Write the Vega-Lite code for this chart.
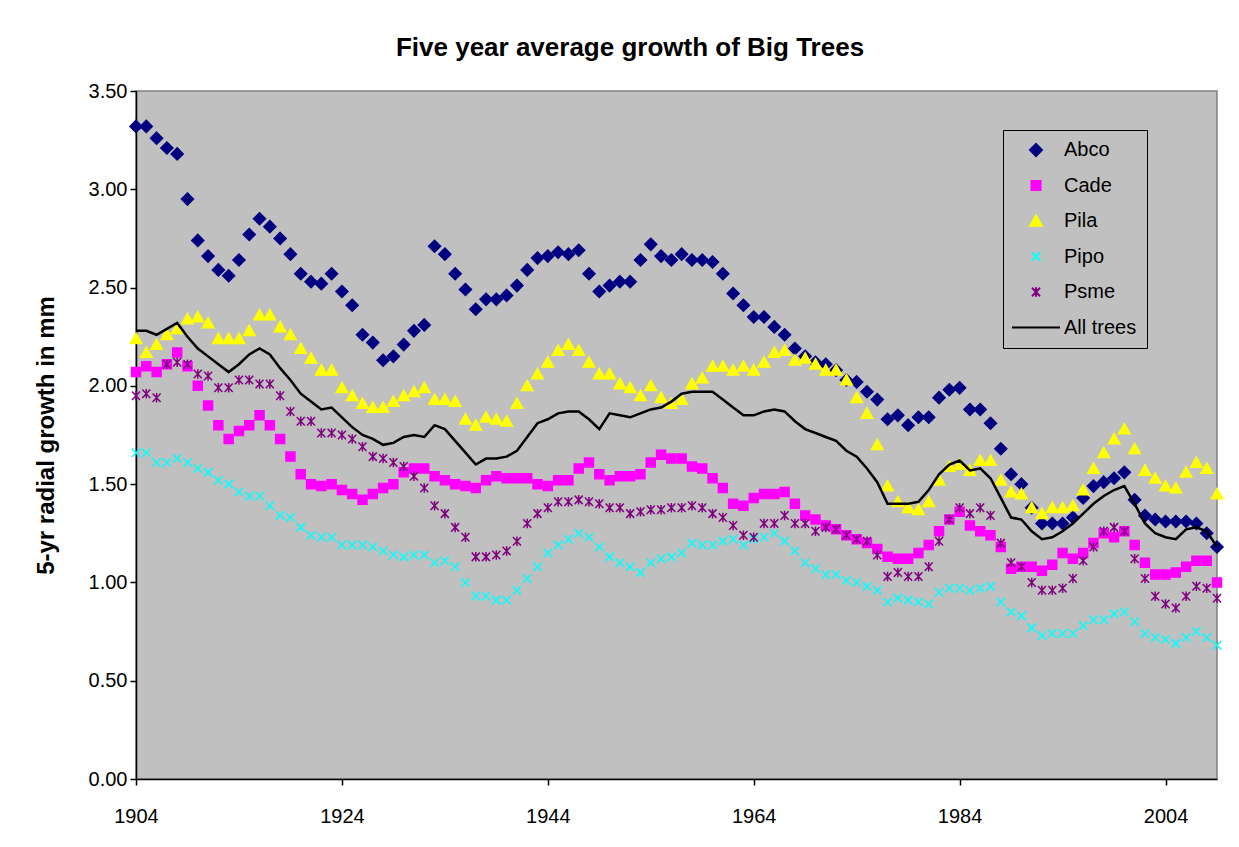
{
  "$schema": "https://vega.github.io/schema/vega-lite/v6.json",
  "width": 1081,
  "height": 688,
  "autosize": "none",
  "padding": {"left": 136, "top": 91, "right": 22, "bottom": 68},
  "background": "white",
  "title": {
    "text": "Five year average growth of Big Trees",
    "font": "Liberation Sans",
    "fontSize": 26,
    "fontWeight": "bold",
    "color": "black",
    "anchor": "middle",
    "frame": "bounds",
    "offset": 20
  },
  "config": {
    "font": "Liberation Sans",
    "view": {"fill": "#C0C0C0", "stroke": "#808080", "strokeWidth": 1.5}
  },
  "data": {
    "values": [
      {"year": 1904, "Abco": 3.32, "Cade": 2.07, "Pila": 2.24, "Pipo": 1.66, "Psme": 1.95, "All trees": 2.28},
      {"year": 1905, "Abco": 3.32, "Cade": 2.10, "Pila": 2.17, "Pipo": 1.66, "Psme": 1.96, "All trees": 2.28},
      {"year": 1906, "Abco": 3.26, "Cade": 2.07, "Pila": 2.21, "Pipo": 1.61, "Psme": 1.94, "All trees": 2.26},
      {"year": 1907, "Abco": 3.21, "Cade": 2.11, "Pila": 2.26, "Pipo": 1.61, "Psme": 2.11, "All trees": 2.29},
      {"year": 1908, "Abco": 3.18, "Cade": 2.17, "Pila": 2.29, "Pipo": 1.63, "Psme": 2.12, "All trees": 2.32},
      {"year": 1909, "Abco": 2.95, "Cade": 2.10, "Pila": 2.34, "Pipo": 1.61, "Psme": 2.11, "All trees": 2.25},
      {"year": 1910, "Abco": 2.74, "Cade": 2.00, "Pila": 2.35, "Pipo": 1.58, "Psme": 2.06, "All trees": 2.19},
      {"year": 1911, "Abco": 2.66, "Cade": 1.90, "Pila": 2.32, "Pipo": 1.56, "Psme": 2.05, "All trees": 2.15},
      {"year": 1912, "Abco": 2.59, "Cade": 1.80, "Pila": 2.24, "Pipo": 1.52, "Psme": 1.99, "All trees": 2.11},
      {"year": 1913, "Abco": 2.56, "Cade": 1.73, "Pila": 2.24, "Pipo": 1.50, "Psme": 1.99, "All trees": 2.07},
      {"year": 1914, "Abco": 2.64, "Cade": 1.77, "Pila": 2.24, "Pipo": 1.46, "Psme": 2.03, "All trees": 2.11},
      {"year": 1915, "Abco": 2.77, "Cade": 1.80, "Pila": 2.28, "Pipo": 1.44, "Psme": 2.03, "All trees": 2.16},
      {"year": 1916, "Abco": 2.85, "Cade": 1.85, "Pila": 2.36, "Pipo": 1.44, "Psme": 2.01, "All trees": 2.19},
      {"year": 1917, "Abco": 2.81, "Cade": 1.80, "Pila": 2.36, "Pipo": 1.39, "Psme": 2.01, "All trees": 2.16},
      {"year": 1918, "Abco": 2.75, "Cade": 1.73, "Pila": 2.30, "Pipo": 1.34, "Psme": 1.95, "All trees": 2.09},
      {"year": 1919, "Abco": 2.67, "Cade": 1.64, "Pila": 2.26, "Pipo": 1.33, "Psme": 1.87, "All trees": 2.03},
      {"year": 1920, "Abco": 2.57, "Cade": 1.55, "Pila": 2.19, "Pipo": 1.28, "Psme": 1.82, "All trees": 1.96},
      {"year": 1921, "Abco": 2.53, "Cade": 1.50, "Pila": 2.14, "Pipo": 1.24, "Psme": 1.82, "All trees": 1.92},
      {"year": 1922, "Abco": 2.52, "Cade": 1.49, "Pila": 2.08, "Pipo": 1.23, "Psme": 1.76, "All trees": 1.88},
      {"year": 1923, "Abco": 2.57, "Cade": 1.50, "Pila": 2.08, "Pipo": 1.23, "Psme": 1.76, "All trees": 1.89},
      {"year": 1924, "Abco": 2.48, "Cade": 1.47, "Pila": 1.99, "Pipo": 1.19, "Psme": 1.75, "All trees": 1.84},
      {"year": 1925, "Abco": 2.41, "Cade": 1.45, "Pila": 1.95, "Pipo": 1.19, "Psme": 1.73, "All trees": 1.79},
      {"year": 1926, "Abco": 2.26, "Cade": 1.42, "Pila": 1.91, "Pipo": 1.19, "Psme": 1.69, "All trees": 1.75},
      {"year": 1927, "Abco": 2.22, "Cade": 1.45, "Pila": 1.89, "Pipo": 1.18, "Psme": 1.64, "All trees": 1.73},
      {"year": 1928, "Abco": 2.13, "Cade": 1.48, "Pila": 1.89, "Pipo": 1.16, "Psme": 1.63, "All trees": 1.70},
      {"year": 1929, "Abco": 2.15, "Cade": 1.50, "Pila": 1.92, "Pipo": 1.14, "Psme": 1.61, "All trees": 1.71},
      {"year": 1930, "Abco": 2.21, "Cade": 1.56, "Pila": 1.95, "Pipo": 1.13, "Psme": 1.59, "All trees": 1.74},
      {"year": 1931, "Abco": 2.28, "Cade": 1.58, "Pila": 1.97, "Pipo": 1.14, "Psme": 1.54, "All trees": 1.75},
      {"year": 1932, "Abco": 2.31, "Cade": 1.58, "Pila": 1.99, "Pipo": 1.14, "Psme": 1.48, "All trees": 1.74},
      {"year": 1933, "Abco": 2.71, "Cade": 1.54, "Pila": 1.93, "Pipo": 1.10, "Psme": 1.39, "All trees": 1.80},
      {"year": 1934, "Abco": 2.67, "Cade": 1.52, "Pila": 1.93, "Pipo": 1.11, "Psme": 1.35, "All trees": 1.78},
      {"year": 1935, "Abco": 2.57, "Cade": 1.50, "Pila": 1.92, "Pipo": 1.08, "Psme": 1.28, "All trees": 1.72},
      {"year": 1936, "Abco": 2.49, "Cade": 1.49, "Pila": 1.83, "Pipo": 1.00, "Psme": 1.23, "All trees": 1.66},
      {"year": 1937, "Abco": 2.39, "Cade": 1.48, "Pila": 1.80, "Pipo": 0.93, "Psme": 1.13, "All trees": 1.60},
      {"year": 1938, "Abco": 2.44, "Cade": 1.52, "Pila": 1.84, "Pipo": 0.93, "Psme": 1.13, "All trees": 1.63},
      {"year": 1939, "Abco": 2.44, "Cade": 1.54, "Pila": 1.83, "Pipo": 0.91, "Psme": 1.14, "All trees": 1.63},
      {"year": 1940, "Abco": 2.46, "Cade": 1.53, "Pila": 1.82, "Pipo": 0.91, "Psme": 1.16, "All trees": 1.64},
      {"year": 1941, "Abco": 2.51, "Cade": 1.53, "Pila": 1.91, "Pipo": 0.96, "Psme": 1.21, "All trees": 1.67},
      {"year": 1942, "Abco": 2.59, "Cade": 1.53, "Pila": 2.00, "Pipo": 1.02, "Psme": 1.30, "All trees": 1.74},
      {"year": 1943, "Abco": 2.65, "Cade": 1.50, "Pila": 2.06, "Pipo": 1.08, "Psme": 1.35, "All trees": 1.81},
      {"year": 1944, "Abco": 2.66, "Cade": 1.49, "Pila": 2.12, "Pipo": 1.15, "Psme": 1.38, "All trees": 1.83},
      {"year": 1945, "Abco": 2.68, "Cade": 1.52, "Pila": 2.18, "Pipo": 1.19, "Psme": 1.41, "All trees": 1.86},
      {"year": 1946, "Abco": 2.67, "Cade": 1.52, "Pila": 2.21, "Pipo": 1.22, "Psme": 1.41, "All trees": 1.87},
      {"year": 1947, "Abco": 2.69, "Cade": 1.58, "Pila": 2.18, "Pipo": 1.25, "Psme": 1.42, "All trees": 1.87},
      {"year": 1948, "Abco": 2.57, "Cade": 1.61, "Pila": 2.12, "Pipo": 1.23, "Psme": 1.41, "All trees": 1.83},
      {"year": 1949, "Abco": 2.48, "Cade": 1.55, "Pila": 2.06, "Pipo": 1.18, "Psme": 1.40, "All trees": 1.78},
      {"year": 1950, "Abco": 2.51, "Cade": 1.52, "Pila": 2.06, "Pipo": 1.13, "Psme": 1.38, "All trees": 1.86},
      {"year": 1951, "Abco": 2.53, "Cade": 1.54, "Pila": 2.01, "Pipo": 1.10, "Psme": 1.38, "All trees": 1.85},
      {"year": 1952, "Abco": 2.53, "Cade": 1.54, "Pila": 1.99, "Pipo": 1.08, "Psme": 1.35, "All trees": 1.84},
      {"year": 1953, "Abco": 2.64, "Cade": 1.55, "Pila": 1.95, "Pipo": 1.05, "Psme": 1.36, "All trees": 1.86},
      {"year": 1954, "Abco": 2.72, "Cade": 1.61, "Pila": 2.00, "Pipo": 1.10, "Psme": 1.37, "All trees": 1.88},
      {"year": 1955, "Abco": 2.66, "Cade": 1.65, "Pila": 1.94, "Pipo": 1.12, "Psme": 1.37, "All trees": 1.89},
      {"year": 1956, "Abco": 2.64, "Cade": 1.63, "Pila": 1.91, "Pipo": 1.13, "Psme": 1.38, "All trees": 1.92},
      {"year": 1957, "Abco": 2.67, "Cade": 1.63, "Pila": 1.93, "Pipo": 1.15, "Psme": 1.38, "All trees": 1.96},
      {"year": 1958, "Abco": 2.64, "Cade": 1.59, "Pila": 2.01, "Pipo": 1.20, "Psme": 1.39, "All trees": 1.97},
      {"year": 1959, "Abco": 2.64, "Cade": 1.58, "Pila": 2.04, "Pipo": 1.19, "Psme": 1.38, "All trees": 1.97},
      {"year": 1960, "Abco": 2.63, "Cade": 1.53, "Pila": 2.10, "Pipo": 1.19, "Psme": 1.35, "All trees": 1.97},
      {"year": 1961, "Abco": 2.57, "Cade": 1.48, "Pila": 2.10, "Pipo": 1.21, "Psme": 1.33, "All trees": 1.93},
      {"year": 1962, "Abco": 2.47, "Cade": 1.40, "Pila": 2.08, "Pipo": 1.22, "Psme": 1.29, "All trees": 1.89},
      {"year": 1963, "Abco": 2.41, "Cade": 1.39, "Pila": 2.10, "Pipo": 1.19, "Psme": 1.24, "All trees": 1.85},
      {"year": 1964, "Abco": 2.35, "Cade": 1.43, "Pila": 2.08, "Pipo": 1.22, "Psme": 1.23, "All trees": 1.85},
      {"year": 1965, "Abco": 2.35, "Cade": 1.45, "Pila": 2.12, "Pipo": 1.23, "Psme": 1.30, "All trees": 1.87},
      {"year": 1966, "Abco": 2.30, "Cade": 1.45, "Pila": 2.17, "Pipo": 1.25, "Psme": 1.30, "All trees": 1.88},
      {"year": 1967, "Abco": 2.26, "Cade": 1.46, "Pila": 2.18, "Pipo": 1.21, "Psme": 1.34, "All trees": 1.87},
      {"year": 1968, "Abco": 2.19, "Cade": 1.40, "Pila": 2.13, "Pipo": 1.16, "Psme": 1.30, "All trees": 1.82},
      {"year": 1969, "Abco": 2.15, "Cade": 1.34, "Pila": 2.14, "Pipo": 1.10, "Psme": 1.30, "All trees": 1.78},
      {"year": 1970, "Abco": 2.12, "Cade": 1.32, "Pila": 2.11, "Pipo": 1.07, "Psme": 1.26, "All trees": 1.76},
      {"year": 1971, "Abco": 2.11, "Cade": 1.29, "Pila": 2.08, "Pipo": 1.04, "Psme": 1.28, "All trees": 1.74},
      {"year": 1972, "Abco": 2.08, "Cade": 1.27, "Pila": 2.08, "Pipo": 1.04, "Psme": 1.27, "All trees": 1.72},
      {"year": 1973, "Abco": 2.03, "Cade": 1.24, "Pila": 2.03, "Pipo": 1.01, "Psme": 1.24, "All trees": 1.67},
      {"year": 1974, "Abco": 2.02, "Cade": 1.22, "Pila": 1.94, "Pipo": 1.00, "Psme": 1.22, "All trees": 1.64},
      {"year": 1975, "Abco": 1.97, "Cade": 1.20, "Pila": 1.86, "Pipo": 0.98, "Psme": 1.21, "All trees": 1.58},
      {"year": 1976, "Abco": 1.93, "Cade": 1.17, "Pila": 1.70, "Pipo": 0.96, "Psme": 1.14, "All trees": 1.51},
      {"year": 1977, "Abco": 1.83, "Cade": 1.13, "Pila": 1.49, "Pipo": 0.90, "Psme": 1.03, "All trees": 1.40},
      {"year": 1978, "Abco": 1.85, "Cade": 1.12, "Pila": 1.41, "Pipo": 0.92, "Psme": 1.05, "All trees": 1.40},
      {"year": 1979, "Abco": 1.80, "Cade": 1.12, "Pila": 1.38, "Pipo": 0.91, "Psme": 1.03, "All trees": 1.40},
      {"year": 1980, "Abco": 1.84, "Cade": 1.15, "Pila": 1.37, "Pipo": 0.90, "Psme": 1.03, "All trees": 1.41},
      {"year": 1981, "Abco": 1.84, "Cade": 1.19, "Pila": 1.41, "Pipo": 0.89, "Psme": 1.08, "All trees": 1.47},
      {"year": 1982, "Abco": 1.94, "Cade": 1.26, "Pila": 1.52, "Pipo": 0.95, "Psme": 1.21, "All trees": 1.55},
      {"year": 1983, "Abco": 1.98, "Cade": 1.32, "Pila": 1.59, "Pipo": 0.97, "Psme": 1.32, "All trees": 1.60},
      {"year": 1984, "Abco": 1.99, "Cade": 1.36, "Pila": 1.60, "Pipo": 0.97, "Psme": 1.38, "All trees": 1.62},
      {"year": 1985, "Abco": 1.88, "Cade": 1.29, "Pila": 1.57, "Pipo": 0.96, "Psme": 1.35, "All trees": 1.57},
      {"year": 1986, "Abco": 1.88, "Cade": 1.26, "Pila": 1.62, "Pipo": 0.97, "Psme": 1.38, "All trees": 1.58},
      {"year": 1987, "Abco": 1.81, "Cade": 1.24, "Pila": 1.62, "Pipo": 0.98, "Psme": 1.34, "All trees": 1.53},
      {"year": 1988, "Abco": 1.68, "Cade": 1.18, "Pila": 1.52, "Pipo": 0.90, "Psme": 1.20, "All trees": 1.43},
      {"year": 1989, "Abco": 1.55, "Cade": 1.07, "Pila": 1.46, "Pipo": 0.85, "Psme": 1.10, "All trees": 1.33},
      {"year": 1990, "Abco": 1.50, "Cade": 1.08, "Pila": 1.45, "Pipo": 0.83, "Psme": 1.08, "All trees": 1.32},
      {"year": 1991, "Abco": 1.38, "Cade": 1.08, "Pila": 1.38, "Pipo": 0.77, "Psme": 1.00, "All trees": 1.26},
      {"year": 1992, "Abco": 1.30, "Cade": 1.06, "Pila": 1.35, "Pipo": 0.73, "Psme": 0.96, "All trees": 1.22},
      {"year": 1993, "Abco": 1.30, "Cade": 1.09, "Pila": 1.38, "Pipo": 0.74, "Psme": 0.96, "All trees": 1.23},
      {"year": 1994, "Abco": 1.30, "Cade": 1.15, "Pila": 1.38, "Pipo": 0.74, "Psme": 0.97, "All trees": 1.26},
      {"year": 1995, "Abco": 1.33, "Cade": 1.12, "Pila": 1.39, "Pipo": 0.74, "Psme": 1.02, "All trees": 1.30},
      {"year": 1996, "Abco": 1.43, "Cade": 1.15, "Pila": 1.47, "Pipo": 0.78, "Psme": 1.11, "All trees": 1.35},
      {"year": 1997, "Abco": 1.49, "Cade": 1.20, "Pila": 1.58, "Pipo": 0.81, "Psme": 1.18, "All trees": 1.40},
      {"year": 1998, "Abco": 1.51, "Cade": 1.25, "Pila": 1.66, "Pipo": 0.81, "Psme": 1.26, "All trees": 1.44},
      {"year": 1999, "Abco": 1.53, "Cade": 1.23, "Pila": 1.73, "Pipo": 0.84, "Psme": 1.28, "All trees": 1.47},
      {"year": 2000, "Abco": 1.56, "Cade": 1.26, "Pila": 1.78, "Pipo": 0.85, "Psme": 1.26, "All trees": 1.49},
      {"year": 2001, "Abco": 1.42, "Cade": 1.19, "Pila": 1.68, "Pipo": 0.80, "Psme": 1.12, "All trees": 1.40},
      {"year": 2002, "Abco": 1.34, "Cade": 1.10, "Pila": 1.57, "Pipo": 0.74, "Psme": 1.02, "All trees": 1.30},
      {"year": 2003, "Abco": 1.32, "Cade": 1.04, "Pila": 1.53, "Pipo": 0.72, "Psme": 0.93, "All trees": 1.25},
      {"year": 2004, "Abco": 1.31, "Cade": 1.04, "Pila": 1.49, "Pipo": 0.71, "Psme": 0.89, "All trees": 1.23},
      {"year": 2005, "Abco": 1.31, "Cade": 1.05, "Pila": 1.48, "Pipo": 0.69, "Psme": 0.87, "All trees": 1.22},
      {"year": 2006, "Abco": 1.31, "Cade": 1.08, "Pila": 1.56, "Pipo": 0.72, "Psme": 0.93, "All trees": 1.27},
      {"year": 2007, "Abco": 1.30, "Cade": 1.11, "Pila": 1.61, "Pipo": 0.75, "Psme": 0.98, "All trees": 1.28},
      {"year": 2008, "Abco": 1.25, "Cade": 1.11, "Pila": 1.58, "Pipo": 0.72, "Psme": 0.97, "All trees": 1.26},
      {"year": 2009, "Abco": 1.18, "Cade": 1.00, "Pila": 1.45, "Pipo": 0.68, "Psme": 0.92, "All trees": 1.18}
    ]
  },
  "transform": [
    {"fold": ["Abco", "Cade", "Pila", "Pipo", "Psme", "All trees"], "as": ["series", "value"]}
  ],
  "encoding": {
    "x": {
      "field": "year",
      "type": "quantitative",
      "scale": {"domain": [1904, 2009], "nice": false, "zero": false},
      "axis": {
        "title": null,
        "values": [1904, 1924, 1944, 1964, 1984, 2004],
        "format": "d",
        "grid": false,
        "labelFlush": false,
        "labelFont": "Liberation Sans",
        "labelFontSize": 20,
        "labelColor": "black",
        "labelPadding": 21,
        "tickSize": 6,
        "tickColor": "black",
        "tickWidth": 1.5,
        "domainColor": "black",
        "domainWidth": 1.5
      }
    },
    "y": {
      "field": "value",
      "type": "quantitative",
      "scale": {"domain": [0, 3.5], "nice": false, "zero": true},
      "axis": {
        "title": "5-yr radial growth in mm",
        "titleFont": "Liberation Sans",
        "titleFontSize": 24,
        "titleFontWeight": "bold",
        "titleColor": "black",
        "titlePadding": 30,
        "values": [0, 0.5, 1, 1.5, 2, 2.5, 3, 3.5],
        "format": ".2f",
        "grid": false,
        "labelFont": "Liberation Sans",
        "labelFontSize": 20,
        "labelColor": "black",
        "labelPadding": 3,
        "tickSize": 6,
        "tickColor": "black",
        "tickWidth": 1.5,
        "domainColor": "black",
        "domainWidth": 1.5
      }
    }
  },
  "layer": [
    {
      "transform": [{"filter": "datum.series !== 'All trees'"}],
      "mark": {"type": "point", "filled": true, "size": 100, "strokeWidth": 1.5, "opacity": 1},
      "encoding": {
        "order": {"field": "series", "type": "nominal"},
        "color": {
          "field": "series",
          "type": "nominal",
          "scale": {
            "domain": ["Abco", "Cade", "Pila", "Pipo", "Psme", "All trees"],
            "range": ["#000080", "#FF00FF", "#FFFF00", "#00FFFF", "#800080", "#000000"]
          },
          "legend": {
            "title": null,
            "orient": "none",
            "legendX": 867,
            "legendY": 39,
            "direction": "vertical",
            "fillColor": "#C0C0C0",
            "strokeColor": "black",
            "padding": 10,
            "rowPadding": 15.5,
            "symbolSize": 100,
            "symbolOffset": 13,
            "labelOffset": 18,
            "labelFont": "Liberation Sans",
            "labelFontSize": 20,
            "labelColor": "black",
            "symbolOpacity": 1,
            "encode": {
              "symbols": {
                "update": {
                  "stroke": {"scale": "stroke", "field": "value"},
                  "strokeWidth": {"value": 2}
                }
              }
            }
          }
        },
        "shape": {
          "field": "series",
          "type": "nominal",
          "scale": {
            "domain": ["Abco", "Cade", "Pila", "Pipo", "Psme", "All trees"],
            "range": [
              "M0,-1.2L1.2,0L0,1.2L-1.2,0Z",
              "M-0.9,-0.9L0.9,-0.9L0.9,0.9L-0.9,0.9Z",
              "M0,-1.1L1.15,0.95L-1.15,0.95Z",
              "M-0.85,-0.85L0.85,0.85M-0.85,0.85L0.85,-0.85",
              "M-0.8,-0.85L0.8,0.85M-0.8,0.85L0.8,-0.85M0,-0.95L0,0.95",
              "M-4.8,0L4.8,0"
            ]
          }
        },
        "stroke": {
          "field": "series",
          "type": "nominal",
          "scale": {
            "domain": ["Abco", "Cade", "Pila", "Pipo", "Psme", "All trees"],
            "range": ["#000080", "#FF00FF", "#FFFF00", "#00FFFF", "#800080", "#000000"]
          },
          "legend": null
        }
      }
    },
    {
      "transform": [{"filter": "datum.series === 'All trees'"}],
      "mark": {"type": "line", "color": "black", "strokeWidth": 2.5},
      "encoding": {}
    }
  ]
}
